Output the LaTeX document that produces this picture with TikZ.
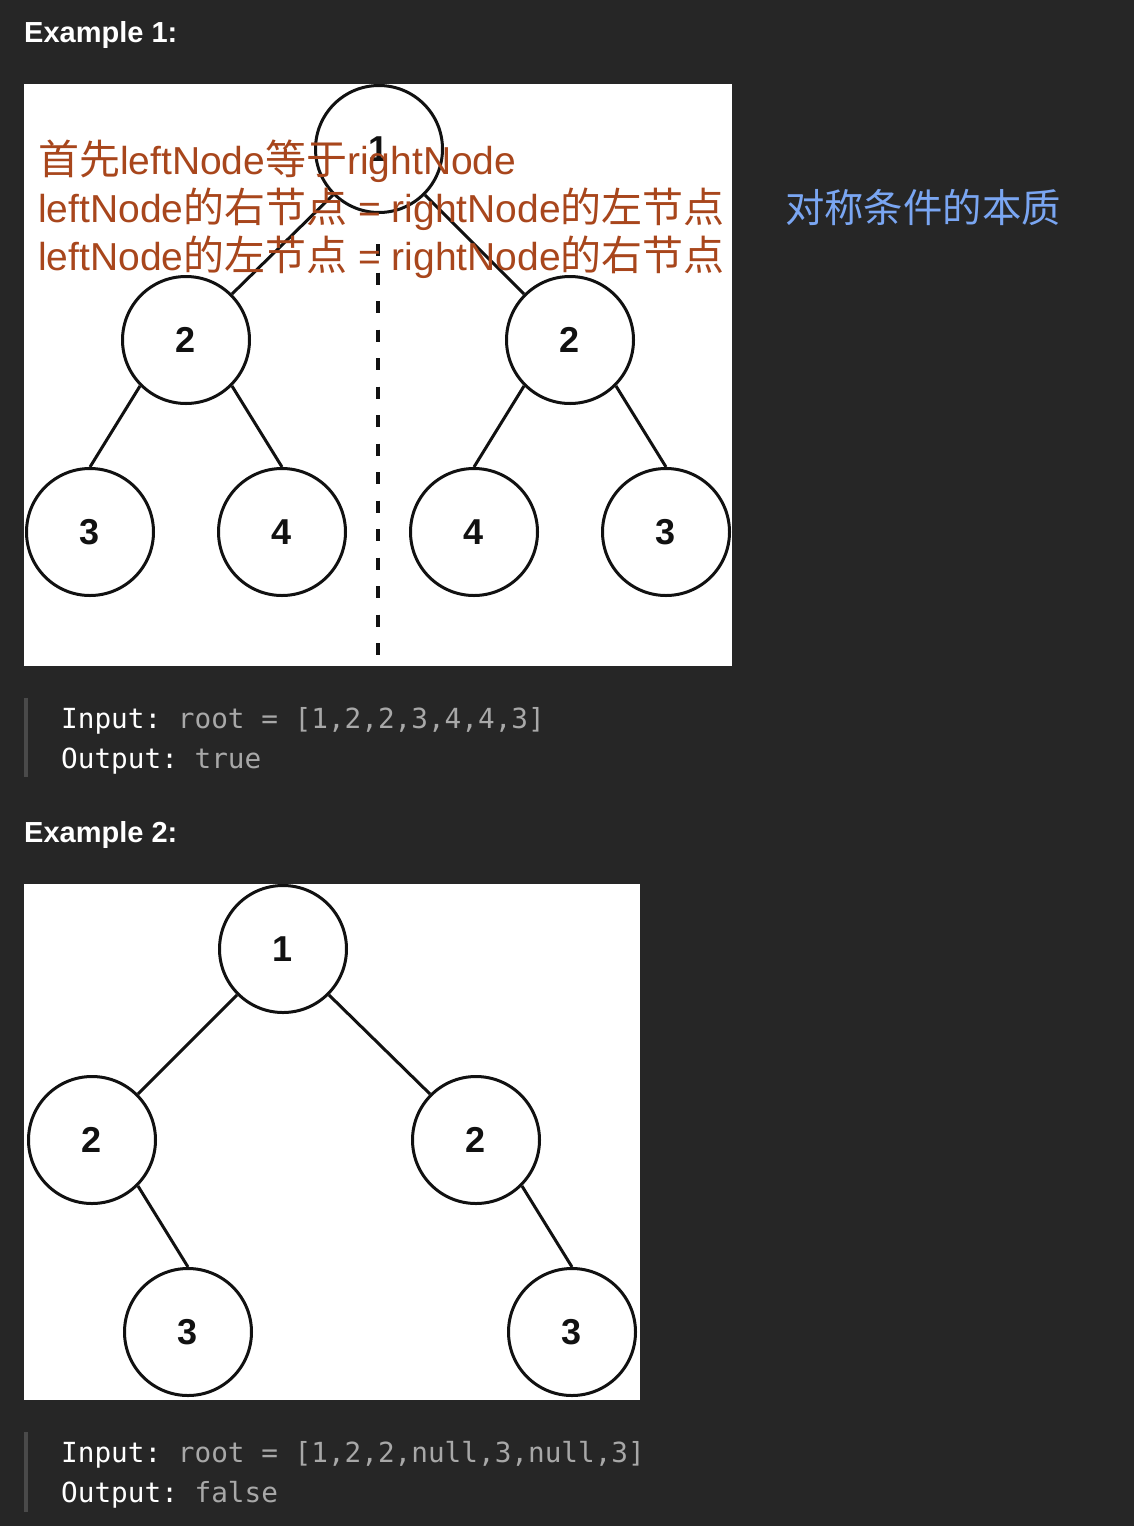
\documentclass[tikz,border=0pt]{standalone}
\usepackage{fontspec}
\setmainfont{Liberation Sans}
\setmonofont{DejaVu Sans Mono}
\newfontfamily\cjk[Scale=1.05]{Noto Sans CJK SC}
\definecolor{bg}{HTML}{262626}
\definecolor{orangetxt}{HTML}{A8461C}
\definecolor{bluetxt}{HTML}{7AA6F2}
\definecolor{codegray}{HTML}{A8A8A8}
\definecolor{barcol}{HTML}{4A4A4A}
\definecolor{ink}{HTML}{111111}
\begin{document}
\begin{tikzpicture}[x=1pt,y=-1pt,
  tn/.style={circle, draw=ink, line width=3pt, fill=white, minimum size=127pt, inner sep=0pt,
    font=\fontsize{36}{36}\selectfont\bfseries, text=ink},
  edge/.style={draw=ink, line width=3pt},
  heading/.style={anchor=base west, inner sep=0pt, text=white, font=\fontsize{29}{34}\selectfont\bfseries},
  codetxt/.style={anchor=base west, inner sep=0pt, font=\fontsize{27.7}{34}\selectfont\ttfamily},
  otxt/.style={anchor=base west, inner sep=0pt, text=orangetxt, font=\fontsize{39}{48}\selectfont},
  bar/.style={draw=barcol, line width=4pt},
  dashline/.style={draw=ink, line width=4pt, dash pattern=on 12pt off 16.5pt}
]
\useasboundingbox (0,0) rectangle (1134,1526);
\fill[bg] (0,0) rectangle (1134,1526);

% ---------- Example 1 ----------
\node[heading] (h1) at (24,42) {Example 1:};
\fill[white] (24,84) rectangle (732,666);

\node[tn] (r1) at (379,149) {1};
\node[tn] (a2) at (186,340) {2};
\node[tn] (b2) at (570,340) {2};
\node[tn] (a3) at (90,532) {3};
\node[tn] (a4) at (282,532) {4};
\node[tn] (b4) at (474,532) {4};
\node[tn] (b3) at (666,532) {3};
\draw[edge] (r1.225) -- (a2.45);
\draw[edge] (r1.315) -- (b2.135);
\draw[edge] (a2.225) -- (a3.north);
\draw[edge] (a2.315) -- (a4.north);
\draw[edge] (b2.225) -- (b4.north);
\draw[edge] (b2.315) -- (b3.north);

\coordinate (dtop) at (378,244);
\coordinate (dbot) at (378,662);
\draw[dashline] (dtop) -- (dbot);

\node[otxt] (t1) at (38,174) {{\cjk 首先}leftNode{\cjk 等于}rightNode};
\node[otxt] (t2) at (38,222) {leftNode{\cjk 的右节点} = rightNode{\cjk 的左节点}};
\node[otxt] (t3) at (38,270) {leftNode{\cjk 的左节点} = rightNode{\cjk 的右节点}};

\node[anchor=base west, inner sep=0pt, text=bluetxt, font=\fontsize{37.5}{45}\selectfont\cjk] (bl) at (785,222) {对称条件的本质};

\coordinate (bar1t) at (26,698);
\coordinate (bar1b) at (26,777);
\draw[bar] (bar1t) -- (bar1b);
\node[codetxt] (in1) at (61,728) {{\color{white}Input:} {\color{codegray}root = [1,2,2,3,4,4,3]}};
\node[codetxt] (out1) at (61,768) {{\color{white}Output:} {\color{codegray}true}};

% ---------- Example 2 ----------
\node[heading] (h2) at (24,842) {Example 2:};
\fill[white] (24,884) rectangle (640,1400);

\node[tn] (r2) at (283,949) {1};
\node[tn] (c2) at (92,1140) {2};
\node[tn] (d2) at (476,1140) {2};
\node[tn] (c3) at (188,1332) {3};
\node[tn] (d3) at (572,1332) {3};
\draw[edge] (r2.225) -- (c2.45);
\draw[edge] (r2.315) -- (d2.135);
\draw[edge] (c2.315) -- (c3.north);
\draw[edge] (d2.315) -- (d3.north);

\coordinate (bar2t) at (26,1432);
\coordinate (bar2b) at (26,1512);
\draw[bar] (bar2t) -- (bar2b);
\node[codetxt] (in2) at (61,1462) {{\color{white}Input:} {\color{codegray}root = [1,2,2,null,3,null,3]}};
\node[codetxt] (out2) at (61,1502) {{\color{white}Output:} {\color{codegray}false}};
\end{tikzpicture}
\end{document}
